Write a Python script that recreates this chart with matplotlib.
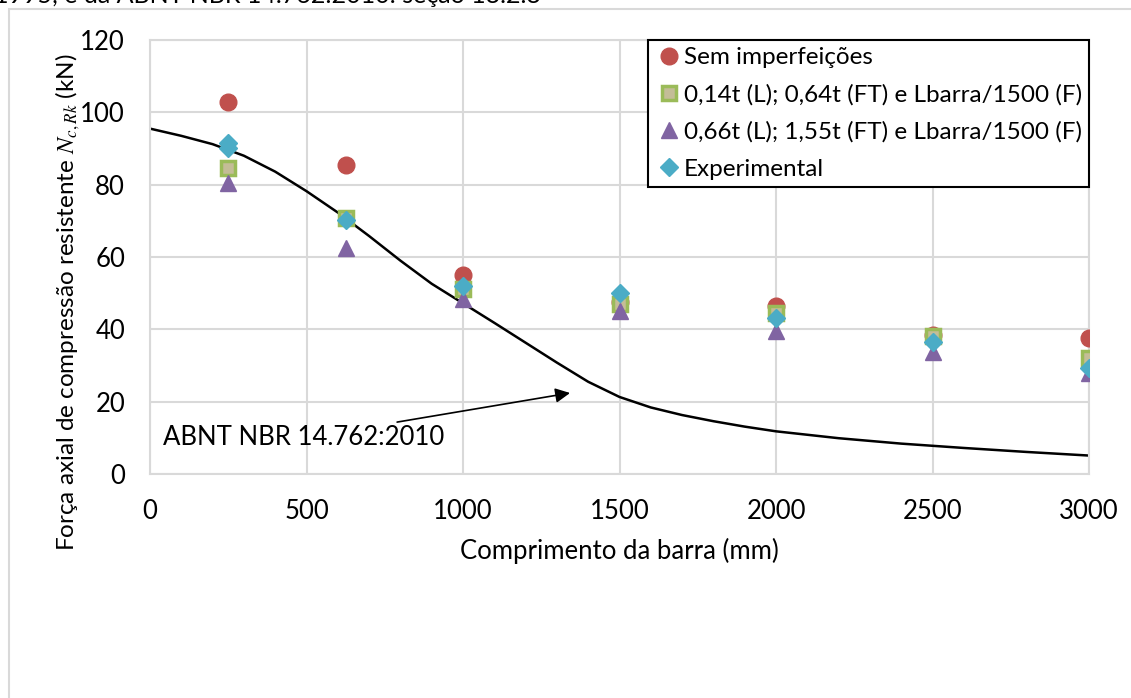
import matplotlib.pyplot as plt
from matplotlib.patches import Rectangle

plt.rcParams['font.family'] = ['Lato', 'DejaVu Sans']
plt.rcParams['mathtext.fontset'] = 'stix'

# comprimentos das barras (mm)
comprimentos = [250, 625, 1000, 1500, 2000, 2500, 3000]

sem_imperf = [102.8, 85.4, 55.1, 47.5, 46.4, 38.5, 37.7]
imperf_1 = [84.6, 70.8, 51.1, 47.0, 44.5, 38.2, 32.0]
imperf_2 = [80.5, 62.6, 48.5, 45.0, 39.5, 33.7, 28.0]

exp_x = [250, 250, 625, 1000, 1500, 2000, 2500, 3000]
experimental = [91.5, 90.1, 70.2, 52.0, 50.0, 43.1, 36.5, 29.3]

# curva da norma
norma_x = [0, 100, 200, 300, 400, 500, 600, 700, 800, 900, 1000, 1100, 1200,
           1300, 1400, 1500, 1600, 1700, 1800, 1900, 2000, 2200, 2400, 2600,
           2800, 3000]
norma_y = [95.5, 93.5, 91.2, 88.0, 83.6, 78.2, 72.3, 65.8, 59.0, 52.6, 47.2,
           41.8, 36.3, 30.8, 25.5, 21.3, 18.4, 16.3, 14.6, 13.1, 11.8, 9.9,
           8.4, 7.2, 6.1, 5.1]

labels = ["Sem imperfeições",
          "0,14t (L); 0,64t (FT) e Lbarra/1500 (F)",
          "0,66t (L); 1,55t (FT) e Lbarra/1500 (F)",
          "Experimental"]

fig = plt.figure(figsize=(11.31, 6.98), dpi=100)
ax = fig.add_axes([150/1131, 1-474/698, 939/1131, 434/698])

# moldura cinza do grafico
fig.patches.append(Rectangle((9/1131, -0.2), 1.2, 1.2-9/698, transform=fig.transFigure,
                             fill=False, edgecolor='#d9d9d9', lw=1.5))
fig.text(-0.005, 1.006, "1995, e da ABNT NBR 14.762:2010: seção 13.2.3",
         fontsize=18, va='center', ha='left')

ax.plot(norma_x, norma_y, color='black', lw=1.8, zorder=2)

ax.plot(comprimentos, sem_imperf, 'o', ms=12, color='#c0504d', label=labels[0], zorder=3)
ax.plot(comprimentos, imperf_1, 's', ms=10.5, color='#c4bd97', mec='#9bbb59', mew=2.5,
        label=labels[1], zorder=4)
ax.plot(comprimentos, imperf_2, '^', ms=12, color='#8064a2', label=labels[2], zorder=5)
ax.plot(exp_x, experimental, 'D', ms=9.5, color='#4bacc6', label=labels[3], zorder=6)

ax.annotate("ABNT NBR 14.762:2010", xy=(1342, 22.4), xytext=(940, 10),
            fontsize=18.5, ha='right', va='center',
            arrowprops=dict(arrowstyle='-|>', color='black', lw=1.2,
                            mutation_scale=22, shrinkA=2, shrinkB=0))

ax.set_xlim(0, 3000)
ax.set_ylim(0, 120)
ax.set_xticks(range(0, 3001, 500))
ax.set_yticks(range(0, 121, 20))
ax.grid(True, color='#d9d9d9', lw=1.5)
ax.set_axisbelow(True)
for s in ax.spines.values():
    s.set_color('#d9d9d9')
    s.set_linewidth(1.5)
ax.tick_params(length=0, labelsize=18.5)
ax.tick_params(axis='x', pad=18)
ax.tick_params(axis='y', pad=18)

ax.set_xlabel("Comprimento da barra (mm)", fontsize=18.5, labelpad=10)
fig.text(68/1131, 1-302/698, r"Força axial de compressão resistente $N_{c,Rk}$ (kN)",
         rotation=90, fontsize=17.5, ha='center', va='center')

leg = ax.legend(loc='upper right', bbox_to_anchor=(1.0, 1.0), fontsize=17.5,
                frameon=True, fancybox=False, edgecolor='black', framealpha=1,
                handletextpad=0.05, borderpad=0.3, labelspacing=0.65,
                handlelength=1.1, borderaxespad=0.0)
leg.get_frame().set_linewidth(1.5)

fig.savefig("out.png", dpi=100)
